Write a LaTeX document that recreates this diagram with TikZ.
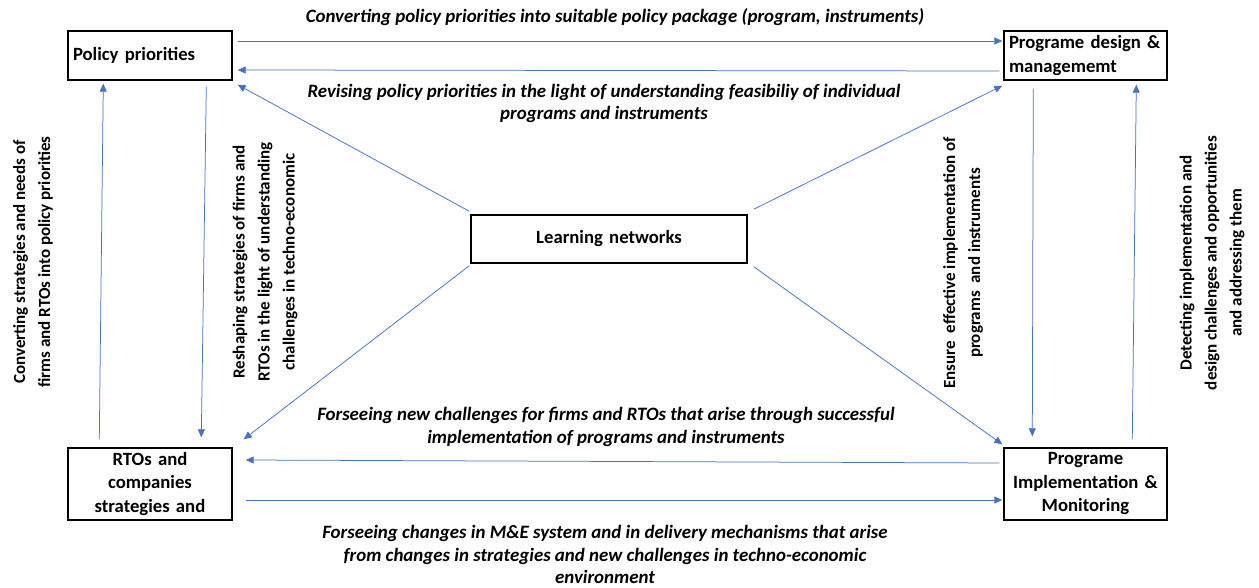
\documentclass[tikz,border=0pt]{standalone}
\usepackage{fontspec}
\setmainfont{Carlito}
\usetikzlibrary{arrows.meta,calc}
\definecolor{arrblue}{HTML}{4472C4}
\begin{document}
\begin{tikzpicture}[x=1pt,y=-1pt,
  box/.style={draw=black,line width=1.4pt,inner xsep=5pt,inner ysep=0pt,font=\fontsize{18.7}{23.5}\selectfont\bfseries},
  arr/.style={draw=arrblue,line width=0.75pt,-{Triangle[length=8pt,width=7pt]}},
  lbl/.style={font=\fontsize{18.9}{22.8}\selectfont\bfseries\itshape,align=center,inner sep=0pt},
  vlbl/.style={font=\fontsize{17}{25}\selectfont\bfseries,align=center,inner sep=0pt,rotate=90}]
\useasboundingbox (0,0) rectangle (1259,588);
\fill[white] (0,0) rectangle (1259,588);

\node[box,minimum width=164pt,minimum height=49pt,text width=154pt,align=left] (PP) at (150,55.5) {Policy priorities};
\node[box,minimum width=163pt,minimum height=49pt,text width=153pt,align=left] (PD) at (1085.5,55.5) {Programe design \&\\managememt};
\node[box,minimum width=164pt,minimum height=72pt,text width=154pt,align=center] (RTO) at (150,484) {RTOs and\\companies\\strategies and};
\node[box,minimum width=163pt,minimum height=72pt,text width=153pt,align=center] (PI) at (1085.5,484) {Programe\\Implementation \&\\Monitoring};
\node[box,minimum width=276pt,minimum height=48pt,text width=266pt,align=center] (LN) at (609,239) {Learning networks};

% connectors
\draw[arr] ($(PP.east|-0,41)+(5,0)$) -- ($(PD.west|-0,41)+(-1,0)$);
\draw[arr] ($(PD.west|-0,71)+(-4,0)$) -- ($(PP.east|-0,70)+(5,0)$);
\draw[arr] ($(LN.north west)+(-1,-3)$) -- ($(PP.south east)+(5,4)$);
\draw[arr] ($(LN.north east)+(6,-5)$) -- ($(PD.south west)+(-1,5)$);
\draw[arr] ($(LN.south west)+(-1,2)$) -- ($(RTO.north east)+(11,-8)$);
\draw[arr] ($(LN.south east)+(6,3)$) -- ($(PI.north west)+(-1,-3)$);
\draw[arr] ($(RTO.north west)+(32,-8)$) -- ($(PP.south west)+(36,3)$);
\draw[arr] ($(PP.south west)+(139,6)$) -- ($(RTO.north west)+(134,-10)$);
\draw[arr] ($(PD.south west)+(30,8)$) -- ($(PI.north west)+(29,-11)$);
\draw[arr] ($(PI.north west)+(129,-8)$) -- ($(PD.south west)+(133,4)$);
\draw[arr] ($(PI.west|-0,463)+(-4,0)$) -- ($(RTO.east|-0,460)+(13,0)$);
\draw[arr] ($(RTO.east|-0,500)+(13,0)$) -- ($(PI.west|-0,500)+(-1,0)$);

% labels
\node[lbl] (l1) at (615,17) {Converting policy priorities into suitable policy package (program, instruments)};
\node[lbl] (l2) at (604,103.5) {Revising policy priorities in the light of understanding feasibiliy of individual\\programs and instruments};
\node[lbl] (l3) at (606,427) {Forseeing new challenges for firms and RTOs that arise through successful\\implementation of programs and instruments};
\node[lbl] (l4) at (605,554.5) {Forseeing changes in M\&E system and in delivery mechanisms that arise\\from changes in strategies and new challenges in techno-economic\\environment};

\node[vlbl] (v1) at (33,262) {Converting strategies and needs of\\firms and RTOs into policy priorities};
\node[vlbl] (v2) at (265,262) {Reshaping strategies of firms and\\RTOs in the light of understanding\\challenges in techno-economic};
\node[vlbl] (v3) at (963,263) {Ensure\ \ effective implementation of\\programs\ \ and instruments};
\node[vlbl] (v4) at (1212,263) {Detecting implementation and\\design challenges and opportunities\\and addressing them};
\end{tikzpicture}
\end{document}
